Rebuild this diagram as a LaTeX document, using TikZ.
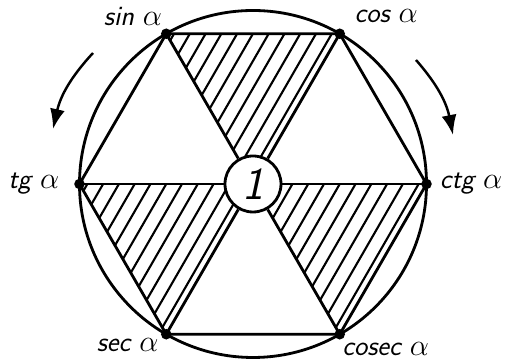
\documentclass[tikz,border=0pt]{standalone}
\usetikzlibrary{arrows.meta,positioning}
\begin{document}
\begin{tikzpicture}[line width=1.6pt,
vertex/.style={circle,fill,inner sep=0pt,minimum size=6pt},
fnlabel/.style={font=\sffamily\itshape\fontsize{16}{19}\selectfont,inner sep=1pt},
hatch/.style={line width=1.2pt},
turn/.style={-{Latex[length=4mm,width=3mm]},line width=1.4pt}]
\useasboundingbox (-5.06,-3.52) rectangle (5.06,3.68);
\draw (0,0) circle (3.47);
\foreach \ang/\name in {120/sn,60/cs,0/ctg,-60/csc,-120/sc,180/tg}
  \coordinate (\name) at (\ang:3.47);
% hatched triangles
\foreach \a/\b in {sn/cs,tg/sc,ctg/csc}{
  \begin{scope}
    \clip (0,0) -- (\a) -- (\b) -- cycle;
    \foreach \k in {-24,...,24}
      \draw[hatch] ({(\k+0.5)*0.3155-3},-5.2) -- ({(\k+0.5)*0.3155+3},5.2);
  \end{scope}}
\node[draw,circle,fill=white,minimum size=1.12cm,inner sep=0pt,
  font=\sffamily\itshape\fontsize{26}{30}\selectfont] (one) at (0,0) {1};
\draw (sn) -- (cs) -- (ctg) -- (csc) -- (sc) -- (tg) -- cycle;
\draw (sn) -- (one) -- (csc);
\draw (cs) -- (one) -- (sc);
\draw (tg) -- (one) -- (ctg);
\foreach \name in {sn,cs,ctg,csc,sc,tg}
  \node[vertex] (v\name) at (\name) {};
\node[fnlabel,above left=0pt and -2pt of vsn] {sin $\alpha$};
\node[fnlabel,above right=2pt and 4pt of vcs] {cos $\alpha$};
\node[fnlabel,left=6pt of vtg] {tg $\alpha$};
\node[fnlabel,right=2pt of vctg] {ctg $\alpha$};
\node[fnlabel,below left=-2pt and 0pt of vsc] {sec $\alpha$};
\node[fnlabel,below right=0pt and -3pt of vcsc] {cosec $\alpha$};
% direction arrows
\coordinate (la) at (-3.2,2.62);
\coordinate (lb) at (-4.0,1.1);
\coordinate (ra) at (3.26,2.48);
\coordinate (rb) at (4.0,0.98);
\draw[turn] (la) to[bend right=15] (lb);
\draw[turn] (ra) to[bend left=15] (rb);
\end{tikzpicture}
\end{document}
